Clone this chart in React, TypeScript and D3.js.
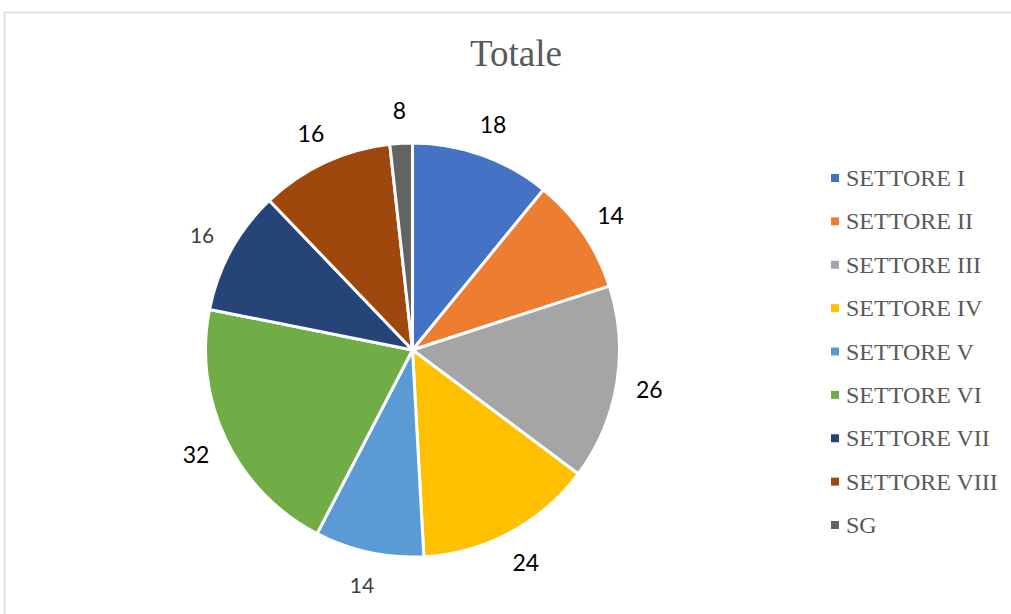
import React from "react";
import * as d3 from "d3";

const categories = ["SETTORE I", "SETTORE II", "SETTORE III", "SETTORE IV", "SETTORE V", "SETTORE VI", "SETTORE VII", "SETTORE VIII", "SG"];
// slice sizes (angles)
const sliceValues = [10.9, 9.1, 15.2, 13.9, 8.5, 20.5, 9.7, 10.4, 1.75];
// data labels as printed in the picture
const labelTexts = ["18", "14", "26", "24", "14", "32", "16", "16", "8"];
const labelMuted = [false, false, false, false, true, false, true, false, false];
const colors = ["#4472C4", "#ED7D31", "#A5A5A5", "#FFC000", "#5B9BD5", "#70AD47", "#264478", "#9E480E", "#636363"];

export default function App() {
  const W = 1011, H = 614;
  const cx = 412.5, cy = 350, r = 207;
  const pie = d3.pie<number>().sort(null).value((d) => d);
  const arcs = pie(sliceValues);
  const arc = d3.arc<d3.PieArcDatum<number>>().innerRadius(0).outerRadius(r);
  const labelArc = d3.arc<d3.PieArcDatum<number>>().innerRadius(240).outerRadius(240);

  const legendY = d3.scaleLinear().domain([0, categories.length - 1]).range([178, 525]);

  return (
    <svg width={W} height={H} style={{ position: "absolute", left: 0, top: 0, background: "#fff" }}>
      <rect x={4.5} y={12.5} width={1200} height={800} fill="#fff" stroke="#d9d9d9" strokeWidth={1.5} />
      <text x={516} y={66} textAnchor="middle" fontFamily="'Liberation Serif', 'Times New Roman', serif" fontSize={37} fill="#595959">
        Totale
      </text>
      <g transform={`translate(${cx},${cy})`}>
        {arcs.map((a, i) => (
          <path key={i} d={arc(a) || ""} fill={colors[i]} stroke="#fff" strokeWidth={3} strokeLinejoin="round" />
        ))}
        {arcs.map((a, i) => {
          const [lx, ly] = labelArc.centroid(a);
          return (
            <text
              key={"l" + i}
              x={lx}
              y={ly}
              textAnchor="middle"
              dominantBaseline="central"
              fontFamily="Lato, 'Open Sans', sans-serif"
              fontSize={labelMuted[i] ? 21 : 23}
              fill={labelMuted[i] ? "#404040" : "#000"}
            >
              {labelTexts[i]}
            </text>
          );
        })}
      </g>
      <g>
        {categories.map((c, i) => (
          <g key={c} transform={`translate(831,${legendY(i)})`}>
            <rect x={0} y={-4} width={8} height={8} fill={colors[i]} />
            <text x={15} y={0} dominantBaseline="central" fontFamily="'Liberation Serif', 'Times New Roman', serif" fontSize={24} fill="#595959">
              {c}
            </text>
          </g>
        ))}
      </g>
    </svg>
  );
}
